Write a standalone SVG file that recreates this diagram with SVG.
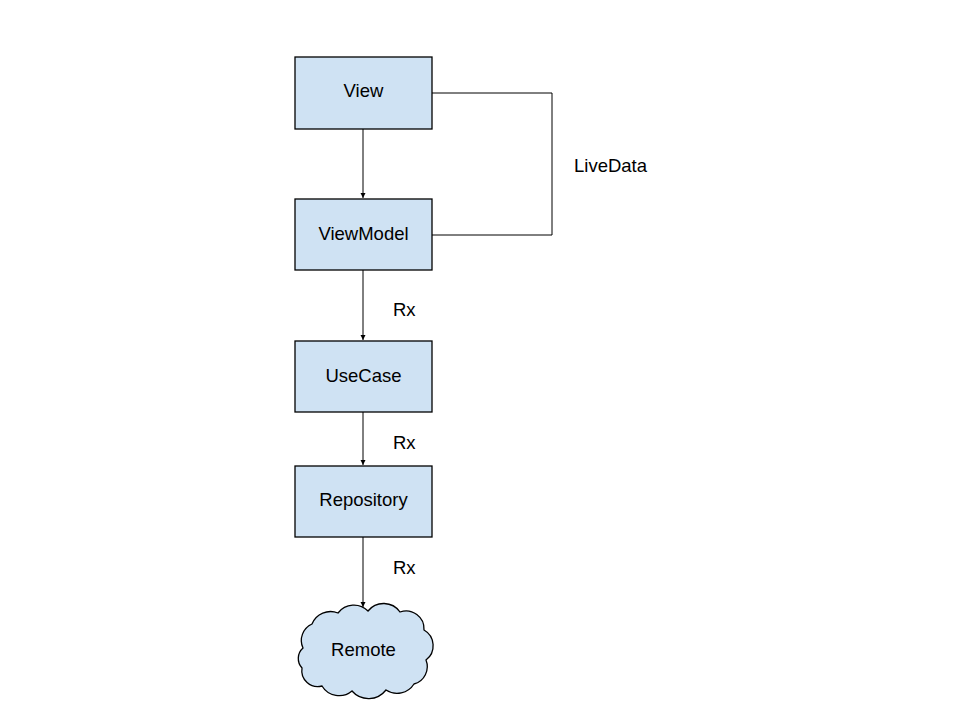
<svg xmlns="http://www.w3.org/2000/svg" width="960" height="720" viewBox="0 0 960 720">
<defs>
<style>
.box{fill:#cfe2f3;stroke:#000;stroke-width:1.3}
.t{font-family:"Liberation Sans",Arial,sans-serif;font-size:18.5px;fill:#000}
.c{text-anchor:middle}
.ln{fill:none;stroke:#000;stroke-width:1}
</style>
<marker id="ah" markerWidth="6" markerHeight="6" refX="5" refY="3" orient="auto" markerUnits="userSpaceOnUse">
<path d="M0,0.5 L5,3 L0,5.5 Z" fill="#000"/>
</marker>
</defs>
<rect width="960" height="720" fill="#fff"/>
<g id="view">
<rect class="box" x="295" y="57" width="137" height="72"/>
<text class="t c" x="363.5" y="97">View</text>
</g>
<g id="viewmodel">
<rect class="box" x="295" y="199" width="137" height="71"/>
<text class="t c" x="363.5" y="240">ViewModel</text>
</g>
<g id="usecase">
<rect class="box" x="295" y="341" width="137" height="71"/>
<text class="t c" x="363.5" y="382">UseCase</text>
</g>
<g id="repository">
<rect class="box" x="295" y="466" width="137" height="71"/>
<text class="t c" x="363.5" y="506">Repository</text>
</g>
<g id="remote">
<path class="box" d="M303,648 A18,18 0 0 1 312,624 A20,20 0 0 1 338,613 A20,20 0 0 1 368,611 A20,20 0 0 1 400,612 A18,18 0 0 1 424,630 A18,18 0 0 1 426,660 A18,18 0 0 1 414,684 A20,20 0 0 1 386,690 A22,22 0 0 1 352,691 A20,20 0 0 1 322,686 A16,16 0 0 1 302,668 A14,14 0 0 1 303,648 Z"/>
<text class="t c" x="363.5" y="656">Remote</text>
</g>
<g id="connectors">
<line class="ln" x1="363" y1="129" x2="363" y2="198" marker-end="url(#ah)"/>
<line class="ln" x1="363" y1="270" x2="363" y2="340" marker-end="url(#ah)"/>
<line class="ln" x1="363" y1="412" x2="363" y2="465" marker-end="url(#ah)"/>
<line class="ln" x1="363" y1="537" x2="363" y2="607" marker-end="url(#ah)"/>
<polyline class="ln" points="432,93 552,93 552,235 432,235"/>
<text class="t" x="574" y="172">LiveData</text>
<text class="t" x="393" y="316">Rx</text>
<text class="t" x="393" y="449">Rx</text>
<text class="t" x="393" y="574">Rx</text>
</g>
</svg>
